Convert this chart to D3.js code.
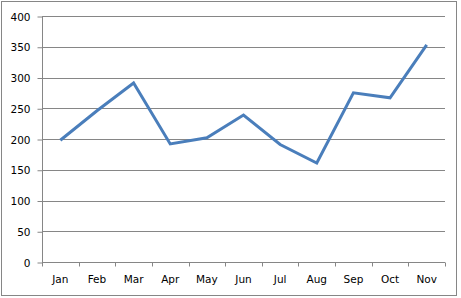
<!DOCTYPE html>
<html>
<head>
<meta charset="utf-8">
<script src="https://cdn.jsdelivr.net/npm/d3@7"></script>
<style>
  body { margin: 0; background: #fff; }
  text { font-family: "DejaVu Sans", Verdana, sans-serif; font-size: 10.5px; fill: #000; }
</style>
</head>
<body>
<script>
var months = ["Jan", "Feb", "Mar", "Apr", "May", "Jun", "Jul", "Aug", "Sep", "Oct", "Nov"];
var values = [198, 246, 291, 192, 202, 239, 191, 161, 275, 267, 353];
var yTicks = [0, 50, 100, 150, 200, 250, 300, 350, 400];

var w = 461, h = 298;
var plotLeft = 42, plotRight = 445, plotTop = 16, plotBottom = 262;

var svg = d3.select("body").append("svg").attr("width", w).attr("height", h);

// outer chart border
svg.append("rect")
    .attr("x", 1.5).attr("y", 1.5)
    .attr("width", 455).attr("height", 294)
    .attr("fill", "#fff")
    .attr("stroke", "#868686");

var x = d3.scaleBand().domain(months).range([plotLeft, plotRight]);
var y = d3.scaleLinear().domain([0, 400]).range([plotBottom, plotTop]);

// gridlines
svg.append("g")
    .selectAll("line")
    .data(yTicks.slice(1))
    .enter().append("line")
    .attr("x1", plotLeft).attr("x2", plotRight)
    .attr("y1", d => Math.round(y(d)) + 0.5)
    .attr("y2", d => Math.round(y(d)) + 0.5)
    .attr("stroke", "#868686");

// y axis
var yAxis = svg.append("g")
    .attr("transform", "translate(" + (plotLeft + 0.5) + ",0.5)")
    .call(d3.axisLeft(y).tickValues(yTicks).tickSize(5).tickPadding(7));
yAxis.select(".domain").attr("stroke", "#868686").attr("d", "M0," + plotTop + "V" + plotBottom);
yAxis.selectAll(".tick line").attr("stroke", "#868686");
yAxis.selectAll("text").attr("dy", "0.35em");

// x axis
var xAxis = svg.append("g")
    .attr("transform", "translate(0," + (plotBottom + 0.5) + ")")
    .call(d3.axisBottom(x).tickSize(0).tickPadding(13));
xAxis.select(".domain").attr("stroke", "#868686").attr("d", "M" + plotLeft + ",0H" + plotRight);
xAxis.selectAll("text").attr("dy", "0.71em");
// tick marks at category boundaries
xAxis.append("g")
    .selectAll("line")
    .data(months.concat(["end"]))
    .enter().append("line")
    .attr("x1", (d, i) => Math.round(plotLeft + i * x.step()) + 0.5)
    .attr("x2", (d, i) => Math.round(plotLeft + i * x.step()) + 0.5)
    .attr("y1", 0).attr("y2", 4)
    .attr("stroke", "#868686");

// line
var line = d3.line()
    .x((d, i) => x(months[i]) + x.bandwidth() / 2)
    .y(d => y(d));

svg.append("path")
    .datum(values)
    .attr("fill", "none")
    .attr("stroke", "#4A7EBB")
    .attr("stroke-width", 3)
    .attr("stroke-linejoin", "miter")
    .attr("d", line);
</script>
</body>
</html>
